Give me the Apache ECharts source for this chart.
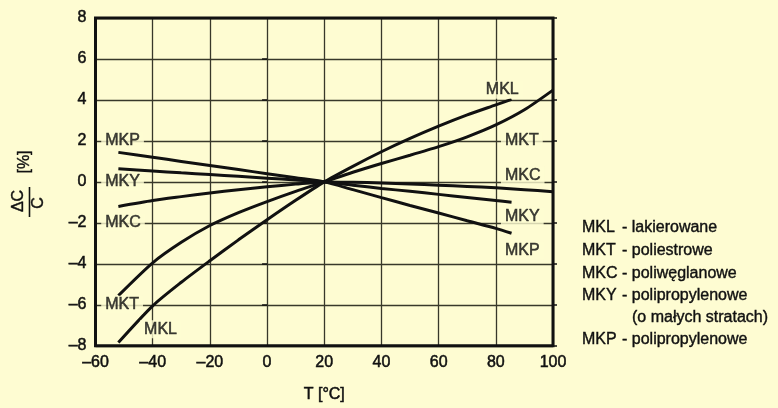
<!DOCTYPE html>
<html>
<head>
<meta charset="utf-8">
<script src="https://cdn.jsdelivr.net/npm/echarts@6/dist/echarts.min.js"></script>
<style>
  html, body { margin: 0; padding: 0; background: #fefcd2; }
  #chart { width: 778px; height: 408px; }
</style>
</head>
<body>
<div id="chart"></div>
<script>
// Temperature points (°C) at which each capacitance curve is sampled
const tempsShort = [-52, -40, -30, -20, -10, 0, 10, 20, 30, 40, 50, 60, 70, 80, 85.5];
const tempsLong  = [-52, -40, -30, -20, -10, 0, 10, 20, 30, 40, 50, 60, 70, 80, 90, 100];

// Relative capacitance change ΔC/C [%]
const mkl = [-7.84, -6.05, -4.9, -3.85, -2.83, -1.85, -0.9, 0, 0.76, 1.47, 2.12, 2.72, 3.27, 3.76, 4.03];
const mkt = [-5.55, -3.95, -2.95, -2.13, -1.5, -0.96, -0.46, 0, 0.47, 0.9, 1.3, 1.72, 2.2, 2.78, 3.52, 4.48];
const mkc = [-1.2, -0.91, -0.72, -0.54, -0.38, -0.24, -0.11, 0, -0.02, -0.05, -0.1, -0.16, -0.22, -0.29, -0.38, -0.48];
const mky = [0.64, 0.53, 0.44, 0.36, 0.27, 0.18, 0.09, 0, -0.16, -0.32, -0.46, -0.61, -0.76, -0.91, -0.99];
const mkp = [1.44, 1.2, 1.0, 0.8, 0.6, 0.4, 0.2, 0, -0.38, -0.77, -1.15, -1.52, -1.9, -2.27, -2.51];

// Axis ranges / ticks
const xMin = -60, xMax = 100, xStep = 20;
const yMin = -8, yMax = 8, yStep = 2;

// Curve tags placed at [T, ΔC/C, name]
const curveTags = [
  [-58, 2, 'MKP'], [-58, 0, 'MKY'], [-58, -2, 'MKC'], [-58, -6, 'MKT'], [-44.4, -7.2, 'MKL'],
  [75.1, 4.5, 'MKL'], [81.8, 2, 'MKT'], [81.8, 0.3, 'MKC'], [81.8, -1.68, 'MKY'], [81.8, -3.36, 'MKP']
];

// Type key
const typeCodes = ['MKL', 'MKT', 'MKC', 'MKY', '', 'MKP'];
const typeNames = ['- lakierowane', '- poliestrowe', '- poliwęglanowe', '- polipropylenowe', '(o małych stratach)', '- polipropylenowe'];

const BG = '#fefcd2';
const INK = '#111111';
const GRID = '#38382a';
const FONT = '"Liberation Sans", Arial, Helvetica, sans-serif';
// a thin outline in the text colour gives the slightly heavier lettering
const HEAVY = { textBorderColor: INK, textBorderWidth: 0.5 };

function pairs(ts, vs) { return ts.map((t, i) => [t, vs[i]]); }
function dashNum(v) { return v < 0 ? '\u2013' + (-v) : String(v); }

function curve(name, ts, vs) {
  return {
    name, type: 'line', data: pairs(ts, vs),
    smooth: 0.25, symbol: 'none', z: 3,
    lineStyle: { color: INK, width: 3 }
  };
}

const chart = echarts.init(document.getElementById('chart'), null, { renderer: 'canvas' });

function keyText(x, y, text, size) {
  return { type: 'text', x, y,
    style: { text, font: size + 'px ' + FONT, fill: INK, stroke: INK, lineWidth: 0.4,
             textAlign: 'left', textVerticalAlign: 'middle' } };
}
const legendGraphics = [];
const legendY = [228, 251, 273.5, 296, 318, 340];
typeCodes.forEach((c, i) => {
  if (c) legendGraphics.push(keyText(582, legendY[i], c, 16));
  legendGraphics.push(keyText(i === 4 ? 632 : 622, legendY[i], typeNames[i], 16));
});

function axisText(x, y, text) {
  return { type: 'text', x, y, rotation: Math.PI / 2,
    style: { text, font: '16px ' + FONT, fill: INK, stroke: INK, lineWidth: 0.4,
             textAlign: 'center', textVerticalAlign: 'middle' } };
}

const labelFont = Object.assign({ color: INK, fontSize: 16, fontFamily: FONT }, HEAVY);

const option = {
  backgroundColor: BG,
  animation: false,
  grid: { left: 95.5, right: 225, top: 18, bottom: 56, show: true, borderColor: INK, borderWidth: 3, z: 4 },
  xAxis: {
    type: 'value', min: xMin, max: xMax, interval: xStep,
    axisLine: { show: false }, axisTick: { show: false },
    axisLabel: Object.assign({ formatter: dashNum, margin: 9 }, labelFont),
    splitLine: { show: true, lineStyle: { color: GRID, width: 1.3 } },
    name: 'T [°C]', nameLocation: 'middle', nameGap: 41,
    nameTextStyle: labelFont
  },
  yAxis: [{
    type: 'value', min: yMin, max: yMax, interval: yStep,
    axisLine: { show: false },
    axisTick: { show: true, length: 5, lineStyle: { color: INK, width: 1.5 } },
    axisLabel: Object.assign({ formatter: dashNum, margin: 9 }, labelFont),
    splitLine: { show: true, lineStyle: { color: GRID, width: 1.3 } }
  }, {
    type: 'value', min: yMin, max: yMax, interval: yStep, position: 'right',
    axisLine: { show: false },
    axisTick: { show: true, length: 4, lineStyle: { color: INK, width: 1.5 } },
    axisLabel: { show: false }, splitLine: { show: false }
  }],
  series: [
    curve('MKL', tempsShort, mkl),
    curve('MKT', tempsLong, mkt),
    curve('MKC', tempsLong, mkc),
    curve('MKY', tempsShort, mky),
    curve('MKP', tempsShort, mkp),
    {
      type: 'scatter', data: curveTags, symbolSize: 0, z: 5, silent: true,
      label: Object.assign({
        show: true, position: 'inside', align: 'left', verticalAlign: 'middle',
        formatter: p => p.value[2], backgroundColor: BG, padding: [1, 4, 1, 4]
      }, labelFont)
    }
  ],
  graphic: [
    axisText(25, 162, '[%]'),
    axisText(19, 201, '\u0394C'),
    { type: 'line', shape: { x1: 29.5, y1: 187, x2: 29.5, y2: 217 }, style: { stroke: INK, lineWidth: 1.6 } },
    axisText(39, 203, 'C')
  ].concat(legendGraphics)
};

chart.setOption(option);
</script>
</body>
</html>
